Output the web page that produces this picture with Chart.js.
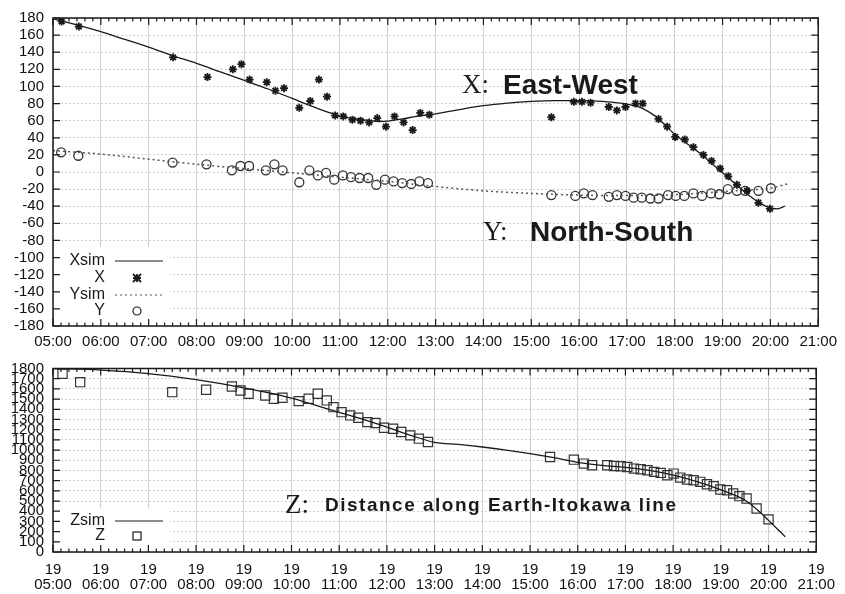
<!DOCTYPE html>
<html>
<head>
<meta charset="utf-8">
<script src="https://cdn.jsdelivr.net/npm/chart.js@4.4.1/dist/chart.umd.min.js"></script>
<style>
  html, body { margin: 0; padding: 0; background: #fff; }
  .wrap { position: absolute; left: 0; width: 845px; }
  #topWrap { top: 0; height: 352px; }
  #botWrap { top: 352px; height: 242px; }
</style>
</head>
<body>
<div class="wrap" id="topWrap"><canvas id="chartXY" width="845" height="352"></canvas></div>
<div class="wrap" id="botWrap"><canvas id="chartZ" width="845" height="242"></canvas></div>
<script>
// hour ticks (05:00 .. 21:00)
const hourTicks = [5, 6, 7, 8, 9, 10, 11, 12, 13, 14, 15, 16, 17, 18, 19, 20, 21];

// X: East-West, observed
const xObsT = [5.18, 5.54, 7.51, 8.23, 8.76, 8.94, 9.11, 9.47, 9.65, 9.83, 10.15, 10.38, 10.56, 10.73, 10.90,
  11.07, 11.26, 11.43, 11.61, 11.78, 11.96, 12.14, 12.33, 12.52, 12.68, 12.87, 15.42,
  15.89, 16.06, 16.24, 16.62, 16.79, 16.97, 17.18, 17.33, 17.66, 17.84, 18.01, 18.21, 18.39,
  18.60, 18.77, 18.95, 19.12, 19.30, 19.51, 19.75, 19.99];
const xObsV = [176, 170, 134, 111, 120, 126, 108, 105, 95, 98, 75, 83, 108, 88, 66,
  65, 61, 60, 58, 63, 53, 65, 58, 49, 69, 67, 64,
  82, 82, 81, 76, 72, 76, 80, 80, 62, 53, 41, 38, 29,
  20, 13, 4, -5, -15, -22, -36, -43];

// X: simulated
const xSimT = [5.0, 5.5, 6.0, 6.5, 7.0, 7.5, 8.0, 8.5, 9.0, 9.5, 10.0, 10.5, 10.8, 11.0, 11.5, 11.8, 12.0,
  12.3, 12.6, 13.0, 13.5, 14.0, 14.5, 15.0, 15.5, 16.0, 16.5, 17.0, 17.3, 17.6, 18.0, 18.5,
  19.0, 19.5, 19.8, 20.0, 20.15, 20.3];
const xSimV = [179, 172, 164, 155, 146, 136, 127, 117, 107, 97, 86, 75, 69, 65, 61, 59, 59.5,
  62, 65, 68, 73, 77.5, 80.5, 82.5, 83.5, 83.5, 82.5, 79.5, 75, 65, 44, 23,
  -1, -25, -37, -42, -43, -40];

// Y: North-South, observed
const yObsT = [5.17, 5.53, 7.50, 8.21, 8.74, 8.92, 9.10, 9.45, 9.63, 9.80, 10.15, 10.36, 10.54, 10.71, 10.88,
  11.06, 11.23, 11.41, 11.59, 11.76, 11.94, 12.12, 12.30, 12.49, 12.66, 12.84, 15.42,
  15.92, 16.10, 16.28, 16.62, 16.79, 16.97, 17.14, 17.31, 17.49, 17.66, 17.86, 18.02, 18.20,
  18.39, 18.57, 18.76, 18.93, 19.11, 19.30, 19.47, 19.75, 20.01];
const yObsV = [23, 19, 11, 9, 2, 7, 7, 2, 9, 2, -12, 2, -4, -1, -9,
  -4, -6, -7, -7, -15, -9, -11, -13, -14, -11, -13, -27,
  -28, -25, -27, -29, -27, -28, -30, -30, -31, -31, -27, -28, -28,
  -25, -28, -25, -26, -20, -22, -22, -22, -19];

// Y: simulated
const ySimT = [5.0, 6.0, 7.0, 8.0, 9.0, 10.0, 11.0, 12.0, 13.0, 14.0, 15.0, 16.0, 17.0, 18.0, 19.0, 19.5, 20.0, 20.35];
const ySimV = [25, 21, 15, 9, 4, -1, -6, -11, -17, -22, -25, -27, -27.5, -26.5, -23, -21, -19, -14];

// Z: distance along Earth-Itokawa line, observed
const zObsT = [5.20, 5.57, 7.50, 8.21, 8.75, 8.93, 9.10, 9.45, 9.63, 9.81, 10.15, 10.36, 10.55, 10.74, 10.88,
  11.05, 11.23, 11.40, 11.59, 11.76, 11.94, 12.13, 12.30, 12.49, 12.67, 12.86, 15.42,
  15.92, 16.13, 16.30, 16.62, 16.76, 16.90, 17.04, 17.18, 17.32, 17.46, 17.60, 17.74, 17.88,
  18.01, 18.15, 18.29, 18.43, 18.57, 18.71, 18.85, 18.99, 19.13, 19.26, 19.39, 19.54, 19.75, 20.00];
const zObsV = [1748, 1666, 1568, 1591, 1624, 1584, 1552, 1535, 1503, 1513, 1480, 1503, 1552, 1487, 1421,
  1372, 1340, 1317, 1274, 1265, 1219, 1209, 1177, 1144, 1112, 1079, 932,
  906, 867, 851, 851, 844, 841, 834, 818, 812, 802, 786, 776, 753,
  769, 730, 711, 704, 688, 665, 646, 613, 606, 574, 548, 525, 427, 320];

// Z: simulated
const zSimT = [5.0, 6.0, 7.0, 8.0, 9.0, 10.0, 10.5, 11.0, 11.5, 12.0, 12.5, 13.0, 13.5, 14.0, 14.5, 15.0,
  15.5, 16.0, 16.5, 17.0, 17.5, 18.0, 18.5, 19.0, 19.5, 19.8, 20.0, 20.35];
const zSimV = [1800, 1785, 1750, 1690, 1610, 1510, 1440, 1370, 1300, 1225, 1145, 1075, 1055, 1030, 1000, 965,
  925, 880, 850, 830, 800, 755, 690, 610, 510, 400, 310, 150];

const pts = (ts, vs) => ts.map((t, i) => ({ x: t, y: vs[i] }));
const hh = (v) => String(v).padStart(2, '0') + ':00';

Chart.defaults.font.family = "'Liberation Sans', Arial, sans-serif";
Chart.defaults.font.size = 15;
Chart.defaults.color = '#111';

const INK = '#1a1a1a';

// frame, inward ticks, legend and text labels (gnuplot look)
const decoPlugin = {
  id: 'deco',
  beforeDatasetsDraw(chart, args, opts) {
    const b = opts.legendBox;
    const ctx = chart.ctx;
    ctx.save();
    ctx.fillStyle = '#fff';
    ctx.fillRect(b[0], b[1], b[2] - b[0], b[3] - b[1]);
    ctx.restore();
  },
  afterDraw(chart, args, opts) {
    const { ctx, chartArea: a } = chart;
    const xs = chart.scales.x, ys = chart.scales.y;
    ctx.save();
    ctx.strokeStyle = INK;
    ctx.lineWidth = 1.5;
    ctx.strokeRect(a.left, a.top, a.right - a.left, a.bottom - a.top);

    // x ticks, major every hour, minor every 10 minutes
    ctx.lineWidth = 1.2;
    ctx.beginPath();
    for (let i = 0; i <= 96; i++) {
      const px = xs.getPixelForValue(5 + i / 6);
      const len = i % 6 === 0 ? 7 : 3.5;
      ctx.moveTo(px, a.bottom); ctx.lineTo(px, a.bottom - len);
      ctx.moveTo(px, a.top); ctx.lineTo(px, a.top + len);
    }
    ys.ticks.forEach(t => {
      const py = ys.getPixelForValue(t.value);
      ctx.moveTo(a.left, py); ctx.lineTo(a.left + 7, py);
      ctx.moveTo(a.right, py); ctx.lineTo(a.right - 7, py);
    });
    ctx.stroke();

    // legend
    ctx.font = "16px 'Liberation Sans', Arial, sans-serif";
    ctx.textAlign = 'right';
    ctx.textBaseline = 'middle';
    ctx.fillStyle = INK;
    opts.legend.forEach(row => {
      ctx.fillText(row.label, 105, row.y);
      ctx.strokeStyle = INK;
      ctx.lineWidth = 1.2;
      ctx.setLineDash([]);
      if (row.kind === 'line' || row.kind === 'dash') {
        if (row.kind === 'dash') { ctx.setLineDash([2, 3]); ctx.strokeStyle = '#555'; }
        ctx.beginPath(); ctx.moveTo(115, row.y); ctx.lineTo(163, row.y); ctx.stroke();
        ctx.setLineDash([]);
      } else if (row.kind === 'star') {
        ctx.lineWidth = 1.8;
        ctx.beginPath();
        ctx.moveTo(133, row.y - 4); ctx.lineTo(141, row.y + 4);
        ctx.moveTo(141, row.y - 4); ctx.lineTo(133, row.y + 4);
        ctx.moveTo(137, row.y - 4); ctx.lineTo(137, row.y + 4);
        ctx.moveTo(133, row.y); ctx.lineTo(141, row.y);
        ctx.stroke();
      } else if (row.kind === 'circle') {
        ctx.beginPath(); ctx.arc(137, row.y, 4, 0, Math.PI * 2); ctx.stroke();
      } else if (row.kind === 'rect') {
        ctx.strokeRect(133, row.y - 4, 8, 8);
      }
    });

    // text labels
    ctx.textAlign = 'left';
    opts.texts.forEach(t => {
      ctx.font = t.font;
      ctx.letterSpacing = t.spacing || '0px';
      ctx.fillText(t.text, t.x, t.y);
    });
    ctx.restore();
  }
};

function xAxis(multiLine) {
  return {
    type: 'linear',
    min: 5, max: 21,
    afterBuildTicks: (s) => { s.ticks = hourTicks.map(v => ({ value: v })); },
    afterFit: (s) => { s.height = multiLine ? 42 : 26; },
    ticks: {
      autoSkip: false,
      maxRotation: 0,
      padding: multiLine ? 10 : 8,
      font: { size: 15, lineHeight: 1 },
      callback: (v) => multiLine ? ['19', hh(v)] : hh(v)
    },
    grid: { color: '#cfcfcf', lineWidth: 1, drawTicks: false },
    border: { display: false }
  };
}

function yAxis(min, max, step) {
  return {
    min: min, max: max,
    afterFit: (s) => { s.width = 53; },
    ticks: { stepSize: step, autoSkip: false, padding: 9, font: { size: 15, lineHeight: 1 },
      callback: (v) => String(v) },
    grid: { color: '#cfcfcf', lineWidth: 1, drawTicks: false },
    border: { display: false, dash: [2, 2] }
  };
}

new Chart(document.getElementById('chartXY'), {
  type: 'scatter',
  data: {
    datasets: [
      { label: 'Xsim', data: pts(xSimT, xSimV), showLine: true, borderColor: INK, borderWidth: 1.3,
        pointRadius: 0, cubicInterpolationMode: 'monotone' },
      { label: 'X', data: pts(xObsT, xObsV), pointStyle: 'star', pointRadius: 4, borderWidth: 1.8,
        borderColor: INK, backgroundColor: INK },
      { label: 'Ysim', data: pts(ySimT, ySimV), showLine: true, borderColor: '#555', borderWidth: 1.5,
        borderDash: [2, 3], pointRadius: 0, cubicInterpolationMode: 'monotone' },
      { label: 'Y', data: pts(yObsT, yObsV), pointStyle: 'circle', pointRadius: 4.5, borderWidth: 1.3,
        borderColor: '#333', backgroundColor: 'rgba(255,255,255,0)' }
    ]
  },
  options: {
    responsive: false,
    animation: false,
    layout: { padding: { top: 18, right: 25, left: 0, bottom: 0 } },
    scales: { x: xAxis(false), y: yAxis(-180, 180, 20) },
    plugins: {
      legend: { display: false },
      tooltip: { enabled: false },
      deco: {
        legendBox: [54, 247, 170, 325],
        legend: [
          { label: 'Xsim', kind: 'line', y: 261 },
          { label: 'X', kind: 'star', y: 278 },
          { label: 'Ysim', kind: 'dash', y: 295 },
          { label: 'Y', kind: 'circle', y: 311 }
        ],
        texts: [
          { text: 'X:', x: 462, y: 86, font: "27px 'Liberation Serif', 'Times New Roman', serif" },
          { text: 'East-West', x: 503, y: 86, font: "bold 28px 'Liberation Sans', Arial, sans-serif" },
          { text: 'Y:', x: 483, y: 233, font: "27px 'Liberation Serif', 'Times New Roman', serif" },
          { text: 'North-South', x: 530, y: 233, font: "bold 28px 'Liberation Sans', Arial, sans-serif" }
        ]
      }
    }
  },
  plugins: [decoPlugin]
});

new Chart(document.getElementById('chartZ'), {
  type: 'scatter',
  data: {
    datasets: [
      { label: 'Zsim', data: pts(zSimT, zSimV), showLine: true, borderColor: INK, borderWidth: 1.3,
        pointRadius: 0, cubicInterpolationMode: 'monotone' },
      { label: 'Z', data: pts(zObsT, zObsV), pointStyle: 'rect', pointRadius: 6.5, borderWidth: 1.2,
        borderColor: '#333', backgroundColor: 'rgba(255,255,255,0)' }
    ]
  },
  options: {
    responsive: false,
    animation: false,
    layout: { padding: { top: 16, right: 25, left: 0, bottom: 0 } },
    scales: { x: xAxis(true), y: yAxis(0, 1800, 100) },
    plugins: {
      legend: { display: false },
      tooltip: { enabled: false },
      deco: {
        legendBox: [54, 156, 170, 199],
        legend: [
          { label: 'Zsim', kind: 'line', y: 169 },
          { label: 'Z', kind: 'rect', y: 184 }
        ],
        texts: [
          { text: 'Z:', x: 285, y: 154, font: "27px 'Liberation Serif', 'Times New Roman', serif" },
          { text: 'Distance along Earth-Itokawa line', x: 325, y: 154, spacing: '1.5px',
            font: "bold 19px 'Liberation Sans', Arial, sans-serif" }
        ]
      }
    }
  },
  plugins: [decoPlugin]
});
</script>
</body>
</html>
